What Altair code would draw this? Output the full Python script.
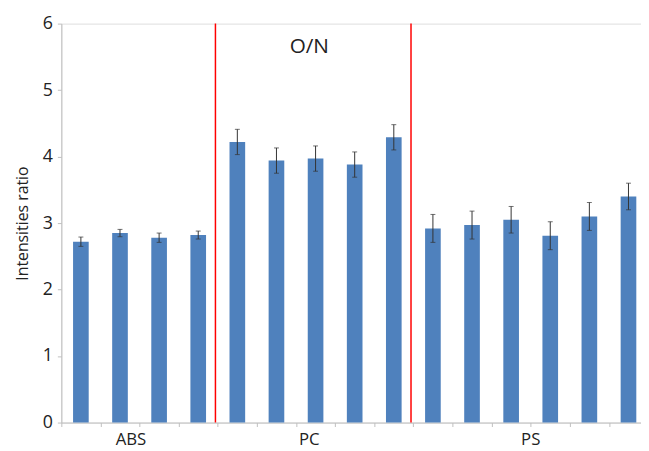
import altair as alt
import pandas as pd

groups = ["ABS"] * 4 + ["PC"] * 5 + ["PS"] * 6
values = [2.72, 2.85, 2.78, 2.82, 4.22, 3.94, 3.97, 3.88, 4.29, 2.92, 2.97, 3.05, 2.81, 3.10, 3.40]
errors = [0.07, 0.055, 0.07, 0.06, 0.19, 0.19, 0.19, 0.19, 0.19, 0.21, 0.21, 0.20, 0.21, 0.21, 0.20]

group_labels = ["ABS", "PC", "PS"]
group_label_pos = [1.78, 6.34, 12.0]
separator_pos = [3.94, 8.94]
title_text = "O/N"
y_ticks = [0, 1, 2, 3, 4, 5, 6]

rows = []
for i, (g, v, e) in enumerate(zip(groups, values, errors)):
    rows.append({"slot": i, "x0": i + 0.3, "x1": i + 0.7, "xc": i + 0.5,
                 "group": g, "value": v, "lo": v - e, "hi": v + e})
df = pd.DataFrame(rows)

xscale = alt.Scale(domain=[0, 14.82], nice=False, zero=False)
yscale = alt.Scale(domain=[0, 6], nice=False)

FONT = "Open Sans"

base = alt.Chart(df)

bars = base.mark_bar(color="#4F81BD").encode(
    x=alt.X("x0:Q", scale=xscale,
            axis=alt.Axis(values=list(range(0, 15)), labels=False, title=None,
                          domainColor="#BFBFBF", tickColor="#BFBFBF", tickSize=4,
                          grid=False)),
    x2="x1:Q",
    y=alt.Y("value:Q", scale=yscale,
            axis=alt.Axis(values=y_ticks, format="d", title="Intensities ratio", grid=False,
                          domainColor="#BFBFBF", tickColor="#BFBFBF", tickSize=4,
                          labelFontSize=18, labelColor="#222222", labelFont=FONT,
                          labelPadding=5, titleFontSize=16, titleFont=FONT,
                          titleFontWeight="normal", titleColor="#222222",
                          titlePadding=12)),
    y2=alt.datum(0),
)

err_rule = base.mark_rule(color="#333333", strokeWidth=1).encode(
    x="xc:Q", y="lo:Q", y2="hi:Q")
err_lo = base.mark_tick(color="#333333", orient="horizontal", size=5, thickness=1).encode(
    x="xc:Q", y="lo:Q")
err_hi = base.mark_tick(color="#333333", orient="horizontal", size=5, thickness=1).encode(
    x="xc:Q", y="hi:Q")

sep_df = pd.DataFrame({"x": separator_pos, "y0": [0] * 2, "y1": [6] * 2})
seps = alt.Chart(sep_df).mark_rule(color="#FF0000", strokeWidth=1.5).encode(
    x="x:Q", y="y0:Q", y2="y1:Q")

lab_df = pd.DataFrame({"x": group_label_pos, "label": group_labels, "y": [-0.26] * 3})
labs = alt.Chart(lab_df).mark_text(fontSize=17, font=FONT, color="#222222",
                                   baseline="middle").encode(
    x="x:Q", y="y:Q", text="label:N")

title_df = pd.DataFrame({"x": [6.34], "y": [5.65], "label": [title_text]})
title = alt.Chart(title_df).mark_text(fontSize=21, font=FONT, color="#222222",
                                      baseline="middle").encode(
    x="x:Q", y="y:Q", text="label:N")

chart = alt.layer(bars, err_rule, err_lo, err_hi, seps, labs, title).properties(
    width=587, height=404,
    autosize=alt.AutoSizeParams(type="none"),
    padding={"left": 54, "top": 13, "right": 0, "bottom": 26},
).configure_view(stroke=None).configure(background="white")

chart.save("out.html", embed_options={"renderer": "svg", "actions": False})
